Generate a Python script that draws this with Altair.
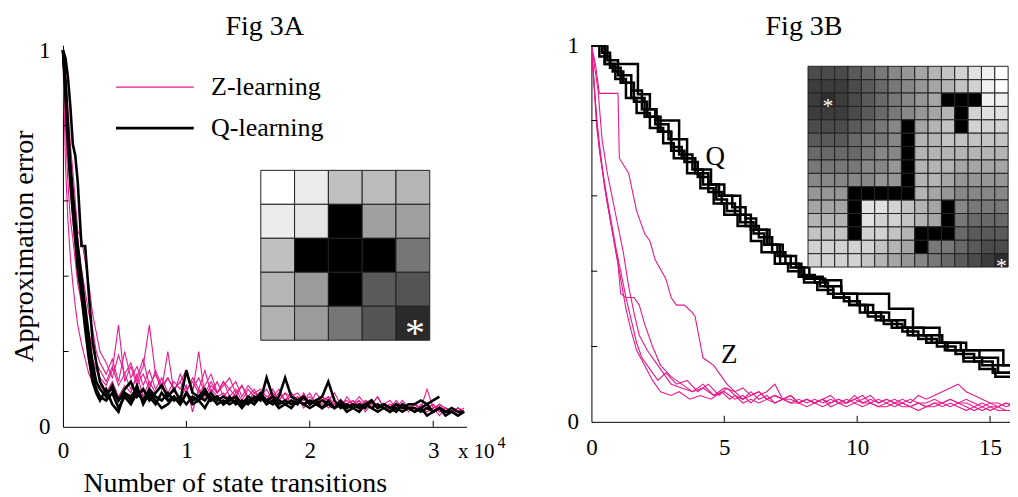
import altair as alt
import pandas as pd

FONT = "Liberation Serif"
PINK = "#E8198B"

# ---------------- Fig 3A data (x in units of 1e4 state transitions) ----------------
XA = [0, 0.02, 0.04, 0.06, 0.08, 0.10, 0.12, 0.15, 0.18, 0.21, 0.24, 0.27, 0.30,
      0.35, 0.40, 0.45, 0.50, 0.55, 0.60, 0.65, 0.70, 0.75, 0.80,
      0.85, 0.90, 0.95, 1.00, 1.05, 1.10, 1.15, 1.20, 1.25, 1.30,
      1.35, 1.40, 1.45, 1.50, 1.55, 1.60, 1.65, 1.70, 1.75, 1.80,
      1.85, 1.90, 1.95, 2.00, 2.05, 2.10, 2.15, 2.20, 2.25, 2.30,
      2.35, 2.40, 2.45, 2.50, 2.55, 2.60, 2.65, 2.70, 2.75, 2.80,
      2.85, 2.90, 2.95, 3.00, 3.05, 3.10, 3.15, 3.20, 3.25]

ZA1 = [1.0, 0.90, 0.78, 0.70, 0.62, 0.55, 0.50, 0.42, 0.36, 0.30, 0.26, 0.20, 0.17,
       0.14, 0.18, 0.12, 0.20, 0.13, 0.16, 0.11, 0.15, 0.10, 0.13,
       0.09, 0.12, 0.10, 0.14, 0.09, 0.20, 0.08, 0.11, 0.09, 0.12,
       0.08, 0.10, 0.07, 0.10, 0.08, 0.09, 0.07, 0.10, 0.07, 0.09,
       0.06, 0.08, 0.07, 0.09, 0.06, 0.08, 0.06, 0.07, 0.05, 0.08,
       0.06, 0.07, 0.05, 0.07, 0.05, 0.06, 0.05, 0.07, 0.05, 0.06,
       0.04, 0.06, 0.05, 0.06, 0.04, 0.05, 0.04, 0.05, 0.04]
ZA2 = [1.0, 0.80, 0.65, 0.55, 0.50, 0.44, 0.38, 0.33, 0.28, 0.22, 0.18, 0.15, 0.13,
       0.11, 0.15, 0.27, 0.12, 0.16, 0.11, 0.14, 0.10, 0.15, 0.11,
       0.13, 0.10, 0.12, 0.09, 0.13, 0.10, 0.15, 0.09, 0.12, 0.08,
       0.10, 0.08, 0.11, 0.07, 0.09, 0.08, 0.10, 0.07, 0.09, 0.07,
       0.08, 0.06, 0.09, 0.06, 0.07, 0.06, 0.08, 0.05, 0.07, 0.06,
       0.07, 0.05, 0.07, 0.06, 0.08, 0.05, 0.06, 0.05, 0.07, 0.05,
       0.06, 0.05, 0.10, 0.05, 0.06, 0.04, 0.05, 0.04, 0.05]
ZA3 = [1.0, 0.95, 0.85, 0.75, 0.68, 0.60, 0.52, 0.50, 0.44, 0.38, 0.30, 0.25, 0.20,
       0.17, 0.13, 0.19, 0.14, 0.17, 0.12, 0.16, 0.27, 0.14, 0.10,
       0.13, 0.10, 0.12, 0.15, 0.10, 0.13, 0.09, 0.12, 0.09, 0.11,
       0.13, 0.09, 0.11, 0.08, 0.10, 0.07, 0.13, 0.08, 0.10, 0.07,
       0.09, 0.07, 0.08, 0.06, 0.09, 0.07, 0.08, 0.06, 0.07, 0.06,
       0.07, 0.05, 0.07, 0.06, 0.08, 0.05, 0.06, 0.05, 0.06, 0.04,
       0.06, 0.05, 0.05, 0.04, 0.06, 0.05, 0.04, 0.05, 0.04]
ZA4 = [1.0, 0.70, 0.55, 0.45, 0.38, 0.32, 0.27, 0.22, 0.18, 0.14, 0.12, 0.10, 0.11,
       0.09, 0.12, 0.08, 0.11, 0.09, 0.14, 0.08, 0.12, 0.09, 0.11,
       0.08, 0.10, 0.07, 0.11, 0.04, 0.10, 0.07, 0.10, 0.08, 0.09,
       0.07, 0.09, 0.06, 0.08, 0.07, 0.09, 0.06, 0.08, 0.06, 0.07,
       0.06, 0.08, 0.05, 0.07, 0.06, 0.07, 0.05, 0.06, 0.05, 0.06,
       0.05, 0.07, 0.04, 0.06, 0.05, 0.06, 0.04, 0.05, 0.04, 0.05,
       0.04, 0.05, 0.04, 0.05, 0.03, 0.05, 0.04, 0.04, 0.04]
ZA5 = [1.0, 0.85, 0.72, 0.62, 0.55, 0.47, 0.40, 0.36, 0.30, 0.25, 0.21, 0.17, 0.15,
       0.12, 0.16, 0.11, 0.14, 0.10, 0.13, 0.18, 0.11, 0.14, 0.10,
       0.20, 0.09, 0.14, 0.10, 0.12, 0.09, 0.11, 0.14, 0.09, 0.12,
       0.10, 0.12, 0.08, 0.11, 0.09, 0.10, 0.08, 0.09, 0.07, 0.09,
       0.08, 0.09, 0.07, 0.08, 0.06, 0.08, 0.07, 0.09, 0.06, 0.07,
       0.06, 0.08, 0.06, 0.07, 0.05, 0.06, 0.07, 0.05, 0.06, 0.05,
       0.06, 0.04, 0.05, 0.06, 0.04, 0.05, 0.04, 0.05, 0.04]

QA1 = [1.0, 0.98, 0.93, 0.85, 0.75, 0.72, 0.65, 0.48, 0.48, 0.35, 0.23, 0.17, 0.12,
       0.09, 0.10, 0.07, 0.09, 0.08, 0.10, 0.07, 0.08, 0.06, 0.09,
       0.07, 0.08, 0.06, 0.09, 0.07, 0.08, 0.10, 0.07, 0.08, 0.06,
       0.08, 0.06, 0.07, 0.06, 0.08, 0.07, 0.13, 0.08, 0.07, 0.06,
       0.07, 0.06, 0.08, 0.06, 0.07, 0.05, 0.06, 0.05, 0.07, 0.05,
       0.06, 0.05, 0.06, 0.05, 0.06, 0.05, 0.04, 0.06, 0.05, 0.05,
       0.04, 0.05, 0.06, 0.04, 0.05, 0.04, 0.05, 0.04, 0.04]
QA2 = [1.0, 0.92, 0.80, 0.70, 0.62, 0.55, 0.48, 0.40, 0.32, 0.24, 0.17, 0.12, 0.10,
       0.08, 0.11, 0.07, 0.10, 0.12, 0.08, 0.10, 0.07, 0.09, 0.11,
       0.08, 0.10, 0.07, 0.15, 0.09, 0.08, 0.07, 0.09, 0.07, 0.08,
       0.07, 0.08, 0.06, 0.08, 0.07, 0.08, 0.07, 0.06, 0.08, 0.13,
       0.08, 0.07, 0.06, 0.07, 0.06, 0.07, 0.06, 0.05, 0.06, 0.05,
       0.06, 0.05, 0.06, 0.07, 0.05, 0.06, 0.05, 0.06, 0.05, 0.06,
       0.06, 0.07, 0.06, 0.07, 0.08, None, None, None, None]
QA3 = [1.0, 0.90, 0.78, 0.68, 0.60, 0.52, 0.45, 0.37, 0.28, 0.20, 0.14, 0.10, 0.08,
       0.07, 0.09, 0.05, 0.08, 0.06, 0.09, 0.07, 0.10, 0.08, 0.07,
       0.09, 0.07, 0.08, 0.06, 0.08, 0.07, 0.09, 0.07, 0.08, 0.06,
       0.07, 0.08, 0.06, 0.07, 0.07, 0.09, 0.07, 0.08, 0.06, 0.07,
       0.06, 0.07, 0.08, 0.06, 0.07, 0.08, 0.12, 0.07, 0.05, 0.06,
       0.05, 0.06, 0.05, 0.07, 0.05, 0.06, 0.05, 0.04, 0.06, 0.05,
       0.05, 0.04, 0.05, 0.04, 0.05, 0.04, 0.04, 0.03, 0.04]
QA4 = [1.0, 0.88, 0.75, 0.65, 0.57, 0.50, 0.42, 0.35, 0.26, 0.18, 0.12, 0.09, 0.07,
       0.10, 0.06, 0.04, 0.09, 0.07, 0.11, 0.06, 0.09, 0.07, 0.05,
       0.06, 0.08, 0.06, 0.09, 0.06, 0.07, 0.05, 0.08, 0.06, 0.07,
       0.06, 0.07, 0.05, 0.07, 0.06, 0.08, 0.06, 0.07, 0.05, 0.06,
       0.05, 0.07, 0.06, 0.05, 0.06, 0.05, 0.07, 0.05, 0.06, 0.04,
       0.05, 0.04, 0.06, 0.05, 0.04, 0.05, 0.04, 0.05, 0.04, 0.05,
       0.04, 0.05, 0.03, 0.04, 0.05, 0.03, 0.04, 0.03, 0.04]

# Inset A: 5x5 grid brightness (0 = wall)
GRID_A = [[255, 236, 192, 187, 181],
          [236, 229, 0, 160, 160],
          [192, 0, 0, 0, 118],
          [181, 155, 0, 90, 84],
          [178, 155, 118, 84, 42]]
GOALS_A = [(4, 4)]

# ---------------- Fig 3B data ----------------
ZB_TAIL_X = [5.4, 5.7, 6.0, 6.3, 6.6, 6.9, 7.2, 7.5, 7.8, 8.1,
             8.4, 8.7, 9.0, 9.3, 9.6, 9.9, 10.2, 10.5, 10.8, 11.1,
             11.4, 11.7, 12.0, 12.3, 12.6, 12.9, 13.2, 13.5, 13.8, 14.1,
             14.4, 14.7, 15.0, 15.3, 15.6, 16.0]

ZB1_X = [0, 0.15, 0.3, 1.0, 1.05, 1.4, 1.7, 2.0, 2.2, 2.4, 2.8, 3.0, 3.2, 3.5, 3.8, 3.9, 4.2, 4.6, 4.9, 5.1]
ZB1_Y = [1.0, 0.95, 0.872, 0.872, 0.70, 0.66, 0.56, 0.50, 0.48, 0.43, 0.38, 0.33, 0.31, 0.31, 0.29, 0.28, 0.17, 0.15, 0.12, 0.10]
ZB1_T = [0.08, 0.09, 0.07, 0.08, 0.06, 0.07, 0.06, 0.07, 0.05, 0.06, 0.05, 0.06, 0.05, 0.06, 0.05, 0.07, 0.05, 0.06,
         0.05, 0.06, 0.05, 0.05, 0.04, 0.05, 0.04, 0.05, 0.05, 0.06, 0.05, 0.05, 0.04, 0.05, 0.04, 0.04, 0.05, 0.04]
ZB2_X = [0, 0.2, 0.4, 0.6, 0.8, 1.0, 1.1, 1.3, 1.6, 1.8, 2.0, 2.3, 2.6, 3.0, 3.4, 3.8, 4.2, 4.6, 5.0]
ZB2_Y = [1.0, 0.80, 0.68, 0.58, 0.50, 0.42, 0.34, 0.33, 0.33, 0.31, 0.26, 0.20, 0.15, 0.12, 0.10, 0.08, 0.09, 0.07, 0.08]
ZB2_T = [0.06, 0.07, 0.05, 0.07, 0.08, 0.10, 0.06, 0.06, 0.05, 0.06, 0.05, 0.04, 0.05, 0.06, 0.05, 0.06, 0.05, 0.05,
         0.04, 0.05, 0.04, 0.05, 0.04, 0.05, 0.04, 0.04, 0.05, 0.04, 0.05, 0.04, 0.03, 0.04, 0.03, 0.04, 0.03, 0.03]
ZB3_X = [0, 0.15, 0.3, 0.5, 0.7, 0.9, 1.1, 1.3, 1.5, 1.7, 1.9, 2.2, 2.5, 2.8, 3.2, 3.6, 4.0, 4.4, 4.8, 5.1]
ZB3_Y = [1.0, 0.85, 0.72, 0.63, 0.55, 0.47, 0.40, 0.33, 0.27, 0.21, 0.17, 0.14, 0.11, 0.13, 0.10, 0.11, 0.08, 0.10, 0.07, 0.09]
ZB3_T = [0.07, 0.06, 0.08, 0.06, 0.07, 0.05, 0.06, 0.07, 0.05, 0.06, 0.05, 0.06, 0.07, 0.05, 0.06, 0.05, 0.06, 0.07,
         0.05, 0.06, 0.05, 0.06, 0.05, 0.07, 0.06, 0.07, 0.08, 0.09, 0.10, 0.08, 0.07, 0.06, 0.05, 0.05, 0.04, 0.05]
ZB4_X = [0, 0.2, 0.35, 0.5, 0.7, 0.9, 1.1, 1.3, 1.5, 1.7, 2.0, 2.3, 2.6, 3.0, 3.3, 3.7, 4.1, 4.5, 4.9, 5.2]
ZB4_Y = [1.0, 0.78, 0.70, 0.62, 0.54, 0.46, 0.38, 0.30, 0.24, 0.19, 0.15, 0.11, 0.08, 0.07, 0.08, 0.06, 0.07, 0.06, 0.08, 0.06]
ZB4_T = [0.07, 0.05, 0.06, 0.05, 0.06, 0.05, 0.06, 0.05, 0.05, 0.04, 0.05, 0.06, 0.04, 0.05, 0.04, 0.05, 0.04, 0.05,
         0.04, 0.04, 0.05, 0.04, 0.04, 0.03, 0.04, 0.05, 0.04, 0.05, 0.04, 0.03, 0.04, 0.03, 0.04, 0.03, 0.03, 0.03]
ZB5_X = [0, 0.25, 0.4, 0.6, 0.8, 1.0, 1.2, 1.4, 1.6, 1.8, 2.1, 2.4, 2.7, 3.0, 3.4, 3.8, 4.2, 4.6, 5.0]
ZB5_Y = [1.0, 0.88, 0.75, 0.66, 0.59, 0.52, 0.45, 0.36, 0.29, 0.23, 0.19, 0.16, 0.13, 0.10, 0.09, 0.08, 0.10, 0.07, 0.09]
ZB5_T = [0.08, 0.06, 0.07, 0.08, 0.06, 0.07, 0.06, 0.05, 0.06, 0.05, 0.06, 0.05, 0.06, 0.05, 0.05, 0.06, 0.07, 0.05,
         0.06, 0.05, 0.06, 0.05, 0.06, 0.05, 0.05, 0.06, 0.05, 0.06, 0.05, 0.06, 0.05, 0.04, 0.05, 0.04, 0.05, 0.04]

QB1_X = [0, 0.4, 0.7, 1.4, 1.75, 2.2, 2.45, 3.25, 3.3, 3.6, 3.9, 4.5, 5.0, 5.6, 6.0, 6.6, 7.1, 7.8, 8.7, 9.4,
         10.6, 11.2, 12.1, 13.1, 14.1, 15.5, 16.0]
QB1_Y = [1.0, 0.98, 0.95, 0.95, 0.87, 0.83, 0.80, 0.80, 0.75, 0.70, 0.67, 0.63, 0.60, 0.55, 0.51, 0.47, 0.42, 0.385,
         0.376, 0.34, 0.34, 0.30, 0.25, 0.21, 0.19, 0.15, 0.15]
QB2_X = [0, 0.3, 0.6, 1.0, 1.5, 1.9, 2.4, 2.9, 3.3, 3.8, 4.2, 4.7, 5.1, 5.6, 6.1, 6.5, 7.0, 7.5, 8.0, 8.6,
         9.1, 9.7, 10.3, 10.9, 11.5, 12.1, 12.8, 13.4, 14.0, 14.7, 15.3, 16.0]
QB2_Y = [1.0, 1.0, 0.96, 0.92, 0.88, 0.83, 0.79, 0.75, 0.71, 0.67, 0.63, 0.59, 0.56, 0.53, 0.50, 0.47, 0.44, 0.41,
         0.38, 0.36, 0.33, 0.31, 0.29, 0.27, 0.25, 0.23, 0.21, 0.19, 0.17, 0.15, 0.13, 0.12]
QB3_X = [0, 0.5, 0.8, 1.2, 1.6, 2.1, 2.6, 3.0, 3.5, 4.0, 4.4, 4.9, 5.4, 5.8, 6.3, 6.8, 7.3, 7.9, 8.4, 8.9,
         9.5, 10.1, 10.7, 11.3, 11.9, 12.6, 13.3, 14.0, 14.6, 15.2, 16.0]
QB3_Y = [1.0, 0.95, 0.93, 0.90, 0.85, 0.81, 0.77, 0.72, 0.69, 0.65, 0.61, 0.58, 0.55, 0.52, 0.49, 0.45, 0.42, 0.39,
         0.37, 0.34, 0.32, 0.29, 0.27, 0.25, 0.23, 0.21, 0.19, 0.16, 0.14, 0.12, 0.11]
QB4_X = [0, 0.2, 0.5, 0.9, 1.3, 1.7, 2.2, 2.7, 3.1, 3.6, 4.1, 4.6, 5.0, 5.5, 6.0, 6.4, 6.9, 7.4, 8.0, 8.5,
         9.1, 9.7, 10.4, 11.0, 11.7, 12.3, 13.0, 13.7, 14.4, 15.1, 16.0]
QB4_Y = [1.0, 1.0, 0.95, 0.91, 0.86, 0.82, 0.78, 0.74, 0.70, 0.66, 0.62, 0.58, 0.55, 0.52, 0.48, 0.45, 0.42, 0.40,
         0.37, 0.35, 0.33, 0.31, 0.28, 0.26, 0.24, 0.22, 0.20, 0.18, 0.16, 0.13, 0.11]
QB5_X = [0, 0.3, 0.7, 1.1, 1.5, 2.0, 2.5, 3.0, 3.4, 3.9, 4.4, 4.8, 5.3, 5.8, 6.2, 6.7, 7.2, 7.7, 8.2, 8.8,
         9.4, 10.0, 10.6, 11.2, 11.8, 12.5, 13.2, 13.9, 14.6, 15.3, 16.0]
QB5_Y = [1.0, 0.97, 0.94, 0.90, 0.86, 0.81, 0.77, 0.73, 0.70, 0.66, 0.63, 0.60, 0.57, 0.54, 0.51, 0.47, 0.44, 0.41,
         0.38, 0.36, 0.34, 0.31, 0.29, 0.27, 0.25, 0.23, 0.21, 0.19, 0.17, 0.15, 0.14]

# Inset B: 15x15 grid, shade level 1 (dark) .. 15 (white); None = wall
X_ = None
GRID_B = [
    [3, 3, 3, 4, 5, 6, 7, 8, 9, 10, 11, 12, 13, 14, 15],
    [2, 2, 2, 3, 4, 5, 6, 7, 8, 9, 10, 11, 12, 14, 15],
    [2, 1, 2, 3, 4, 5, 6, 7, 8, 9, X_, X_, X_, 14, 14],
    [2, 2, 2, 3, 4, 5, 6, 7, 8, 9, 10, X_, 12, 13, 13],
    [3, 3, 3, 4, 5, 6, 7, X_, 9, 10, 11, X_, 12, 12, 12],
    [4, 4, 4, 5, 6, 6, 7, X_, 10, 10, 11, 11, 11, 11, 11],
    [5, 5, 5, 5, 6, 7, 7, X_, 10, 10, 10, 10, 10, 10, 10],
    [6, 6, 6, 6, 7, 7, 8, X_, 10, 10, 10, 9, 9, 9, 9],
    [7, 7, 7, 7, 7, 8, 8, X_, 10, 10, 9, 8, 8, 8, 8],
    [8, 8, 8, X_, X_, X_, X_, X_, 10, 9, 8, 7, 7, 7, 7],
    [9, 9, 9, X_, 13, 13, 12, 11, 10, 9, X_, 7, 6, 6, 6],
    [10, 10, 10, X_, 13, 12, 12, 11, 10, 9, X_, 6, 5, 5, 5],
    [11, 11, 11, X_, 12, 12, 11, 10, X_, X_, X_, 5, 4, 4, 4],
    [12, 12, 12, 12, 12, 11, 10, 9, X_, 6, 6, 5, 4, 3, 3],
    [12, 12, 12, 12, 11, 10, 9, 8, 7, 6, 5, 4, 3, 2, 1],
]
GOALS_B = [(2, 1), (14, 14)]

LEGEND_NAMES = ["Z-learning", "Q-learning"]
PANEL_TITLES = ["Fig 3A", "Fig 3B"]


# ---------------- helpers ----------------
def lines_df(pairs, prefix):
    rows = []
    for i, (xs, ys) in enumerate(pairs):
        assert len(xs) == len(ys), (prefix, i, len(xs), len(ys))
        for k, (x, y) in enumerate(zip(xs, ys)):
            if y is not None:
                rows.append({"x": x, "y": y, "run": f"{prefix}{i}", "k": k})
    return pd.DataFrame(rows)


def grid_df(grid, x0, x1, ytop, ybot, shade):
    n, m = len(grid), len(grid[0])
    cw, ch = (x1 - x0) / m, (ytop - ybot) / n
    rows = []
    for r in range(n):
        for c in range(m):
            g = shade(grid[r][c])
            rows.append({"x": x0 + c * cw, "x2": x0 + (c + 1) * cw,
                         "y": ytop - r * ch, "y2": ytop - (r + 1) * ch,
                         "fill": "#%02x%02x%02x" % (g, g, g)})
    return pd.DataFrame(rows)


def goal_df(goals, grid, x0, x1, ytop, ybot):
    n, m = len(grid), len(grid[0])
    cw, ch = (x1 - x0) / m, (ytop - ybot) / n
    return pd.DataFrame([{"x": x0 + (c + 0.5) * cw, "y": ytop - (r + 0.5) * ch, "t": "*"} for r, c in goals])


def axis(**kw):
    base = dict(domainColor="black", domainWidth=1, ticks=False, grid=False, format="d",
                labelFont=FONT, labelFontSize=23, labelColor="black",
                labelFlush=False, labelOverlap=False, labelBound=False,
                titleFont=FONT, titleFontSize=28, titleFontWeight="normal", titleColor="black")
    base.update(kw)
    return alt.Axis(**base)


# ---------------- Fig 3A ----------------
WL, HL = 404, 382
xsL = alt.Scale(domain=[0, 3.27], nice=False, zero=False)
ysL = alt.Scale(domain=[0, 1.0133], nice=False, zero=False)
axXL = axis(values=[0, 1, 2, 3], title="Number of state transitions", labelPadding=13, titlePadding=7, titleX=172)
axYL = axis(values=[0, 1], title="Approximation error", labelPadding=13, titlePadding=0, titleY=201)


def XL(f="x"):
    return alt.X(f"{f}:Q", scale=xsL, axis=axXL)


def YL(f="y"):
    return alt.Y(f"{f}:Q", scale=ysL, axis=axYL)


zA = lines_df([(XA, ZA1), (XA, ZA2), (XA, ZA3), (XA, ZA4), (XA, ZA5)], "z")
qA = lines_df([(XA, QA1), (XA, QA2), (XA, QA3), (XA, QA4)], "q")

zA_layer = alt.Chart(zA).mark_line(color=PINK, strokeWidth=1.1).encode(
    x=XL(), y=YL(), detail="run:N", order="k:Q")
qA_layer = alt.Chart(qA).mark_line(color="black", strokeWidth=2.6).encode(
    x=XL(), y=YL(), detail="run:N", order="k:Q")

ytickA = alt.Chart(pd.DataFrame({"y": [0.2, 0.4, 0.6, 0.8], "x": [0] * 4, "x2": [0.045] * 4})).mark_rule(
    color="black", strokeWidth=1).encode(y=YL(), x=XL(), x2="x2:Q")
xtickA = alt.Chart(pd.DataFrame({"x": [1, 2, 3], "y": [0] * 3, "y2": [0.016] * 3})).mark_rule(
    color="black", strokeWidth=1).encode(x=XL(), y=YL(), y2="y2:Q")

leg = pd.DataFrame({"name": LEGEND_NAMES, "c": [PINK, "black"], "w": [1.3, 2.8],
                    "x": [0.43, 0.43], "x2": [1.06, 1.06], "y": [0.902, 0.793], "tx": [1.2, 1.2]})
legLines = alt.Chart(leg).mark_rule().encode(
    x=XL(), x2="x2:Q", y=YL(),
    color=alt.Color("c:N", scale=None), strokeWidth=alt.StrokeWidth("w:Q", scale=None))
legText = alt.Chart(leg).mark_text(font=FONT, fontSize=26, align="left", baseline="middle", color="black").encode(
    x=XL("tx"), y=YL(), text="name:N")

exp_df = pd.DataFrame({"x": [3.2, 3.52], "y": [-0.083, -0.057], "t": ["x 10", "4"], "s": [21, 16]})
expText = alt.Chart(exp_df).mark_text(font=FONT, align="left", baseline="alphabetic", color="black").encode(
    x=XL(), y=YL(), text="t:N", size=alt.Size("s:Q", scale=None))

titleA = alt.Chart(pd.DataFrame({"x": [1.635], "y": [1.0982], "t": [PANEL_TITLES[0]]})).mark_text(
    font=FONT, fontSize=28, align="center", baseline="top", color="black").encode(x=XL(), y=YL(), text="t:N")

A_EXT = (1.603, 2.972, 0.681, 0.230)
gA = grid_df(GRID_A, *A_EXT, shade=lambda v: v)
gridA = alt.Chart(gA).mark_rect(stroke="#222222", strokeWidth=1).encode(
    x=XL(), x2="x2:Q", y=YL(), y2="y2:Q", fill=alt.Fill("fill:N", scale=None))
starA = alt.Chart(goal_df(GOALS_A, GRID_A, *A_EXT)).mark_text(
    font=FONT, fontSize=40, color="white", baseline="middle", dy=11, dx=2).encode(
    x=XL(), y=YL(), text="t:N")

panelA = alt.layer(zA_layer, qA_layer, ytickA, xtickA, legLines, legText, expText, titleA,
                   gridA, starA).properties(width=WL, height=HL)

# ---------------- Fig 3B ----------------
WR, HR = 419, 377
xsR = alt.Scale(domain=[0, 15.75], nice=False, zero=False)
ysR = alt.Scale(domain=[0, 1], nice=False, zero=False)
axXR = axis(values=[0, 5, 10, 15], title=None, labelPadding=15)
axYR = axis(values=[0, 1], title=None, labelPadding=13)


def XR(f="x"):
    return alt.X(f"{f}:Q", scale=xsR, axis=axXR)


def YR(f="y"):
    return alt.Y(f"{f}:Q", scale=ysR, axis=axYR)


zB = lines_df([(ZB1_X + ZB_TAIL_X, ZB1_Y + ZB1_T), (ZB2_X + ZB_TAIL_X, ZB2_Y + ZB2_T),
               (ZB3_X + ZB_TAIL_X, ZB3_Y + ZB3_T), (ZB4_X + ZB_TAIL_X, ZB4_Y + ZB4_T),
               (ZB5_X + ZB_TAIL_X, ZB5_Y + ZB5_T)], "z")
qB = lines_df([(QB1_X, QB1_Y), (QB2_X, QB2_Y), (QB3_X, QB3_Y), (QB4_X, QB4_Y), (QB5_X, QB5_Y)], "q")

zB_layer = alt.Chart(zB).mark_line(color=PINK, strokeWidth=1.1, clip=True).encode(
    x=XR(), y=YR(), detail="run:N", order="k:Q")
qB_layer = alt.Chart(qB).mark_line(color="black", strokeWidth=2.5, interpolate="step-after", clip=True).encode(
    x=XR(), y=YR(), detail="run:N", order="k:Q")
ytickB = alt.Chart(pd.DataFrame({"y": [0.2, 0.4, 0.6, 0.8], "x": [0] * 4, "x2": [0.22] * 4})).mark_rule(
    color="black", strokeWidth=1).encode(y=YR(), x=XR(), x2="x2:Q")
xtickB = alt.Chart(pd.DataFrame({"x": [5, 10, 15], "y": [0] * 3, "y2": [0.016] * 3})).mark_rule(
    color="black", strokeWidth=1).encode(x=XR(), y=YR(), y2="y2:Q")

lab_df = pd.DataFrame({"x": [4.66, 5.19], "y": [0.702, 0.177], "t": ["Q", "Z"]})
labB = alt.Chart(lab_df).mark_text(font=FONT, fontSize=27, color="black", baseline="middle").encode(
    x=XR(), y=YR(), text="t:N")

titleB = alt.Chart(pd.DataFrame({"x": [8.0], "y": [1.0849], "t": [PANEL_TITLES[1]]})).mark_text(
    font=FONT, fontSize=28, align="center", baseline="top", color="black").encode(x=XR(), y=YR(), text="t:N")

B_EXT = (8.15, 15.68, 0.944, 0.411)
gB = grid_df(GRID_B, *B_EXT, shade=lambda v: 0 if v is None else int(round(30 + 15 * v)))
gridB = alt.Chart(gB).mark_rect(stroke="#222222", strokeWidth=1).encode(
    x=XR(), x2="x2:Q", y=YR(), y2="y2:Q", fill=alt.Fill("fill:N", scale=None))
starB = alt.Chart(goal_df(GOALS_B, GRID_B, *B_EXT)).mark_text(
    font=FONT, fontSize=22, color="white", baseline="middle", dy=6).encode(
    x=XR(), y=YR(), text="t:N")

panelB = alt.layer(zB_layer, qB_layer, ytickB, xtickB, labB, titleB, gridB, starB).properties(
    width=WR, height=HR)

chart = alt.hconcat(panelA, panelB, spacing=61).resolve_scale(x="independent", y="independent").properties(
    padding={"left": 2, "top": 4, "right": 0, "bottom": 0}, background="white"
).configure_view(stroke=None)

chart.save("out.html", embed_options={"renderer": "svg", "actions": False})
